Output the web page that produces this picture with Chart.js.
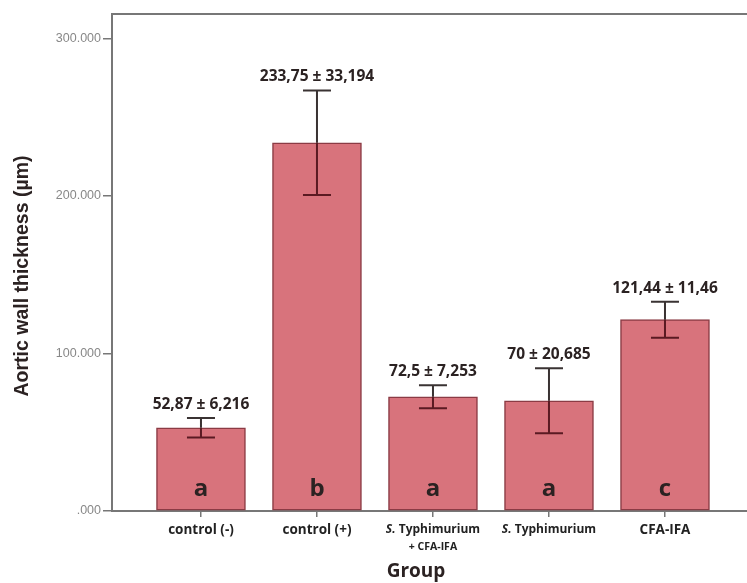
<!DOCTYPE html>
<html lang="en">
<head>
  <meta charset="UTF-8">
  <title>Aortic wall thickness</title>
  <script src="https://cdn.jsdelivr.net/npm/chart.js"></script>
  <style>
    html, body { margin: 0; padding: 0; background: #fff; }
    #wrap { width: 747px; height: 583px; }
  </style>
</head>
<body>
  <div id="wrap"><canvas id="chart"></canvas></div>

  <script>
    // data
    const groups = ['control (-)', 'control (+)', 'S. Typhimurium|+ CFA-IFA', 'S. Typhimurium', 'CFA-IFA'];
    const means = [52.87, 233.75, 72.5, 70, 121.44];
    const sds = [6.216, 33.194, 7.253, 20.685, 11.46];
    const letters = ['a', 'b', 'a', 'a', 'c'];
    const yTicks = [0, 100, 200, 300];
    const yTickLabels = ['.000', '100.000', '200.000', '300.000'];

    const fmt = v => String(v).replace('.', ',');
    const dark = '#2b2222';
    const fontFam = '"Open Sans", "Liberation Sans", sans-serif';

    // error bars + labels, drawn from the scales
    const extras = {
      id: 'extras',
      afterDatasetsDraw(chart) {
        const ctx = chart.ctx;
        const xs = chart.scales.x, ys = chart.scales.y;
        const area = chart.chartArea;
        ctx.save();

        // top frame line
        ctx.strokeStyle = '#777';
        ctx.lineWidth = 2;
        ctx.beginPath();
        ctx.moveTo(area.left, area.top);
        ctx.lineTo(area.right, area.top);
        ctx.stroke();

        means.forEach((m, i) => {
          const x = xs.getPixelForValue(i);
          const yHi = ys.getPixelForValue(m + sds[i]);
          const yLo = ys.getPixelForValue(m - sds[i]);
          const yTop = ys.getPixelForValue(m);
          const cap = 14;

          ctx.lineWidth = 2;
          ctx.strokeStyle = '#3a3333';
          ctx.beginPath();
          ctx.moveTo(x, yHi); ctx.lineTo(x, yTop);
          ctx.moveTo(x - cap, yHi); ctx.lineTo(x + cap, yHi);
          ctx.stroke();
          ctx.strokeStyle = '#5a1a22';
          ctx.beginPath();
          ctx.moveTo(x, yTop); ctx.lineTo(x, yLo);
          ctx.moveTo(x - cap, yLo); ctx.lineTo(x + cap, yLo);
          ctx.stroke();

          // value label
          ctx.fillStyle = dark;
          ctx.font = 'bold 15.5px ' + fontFam;
          ctx.textAlign = 'center';
          ctx.textBaseline = 'alphabetic';
          ctx.fillText(fmt(m) + ' \u00b1 ' + fmt(sds[i]), x, yHi - 9);

          // group letter
          ctx.font = 'bold 24px ' + fontFam;
          ctx.textBaseline = 'middle';
          ctx.fillText(letters[i], x, ys.getPixelForValue(0) - 22);

          // category label
          const parts = groups[i].split('|');
          ctx.textBaseline = 'middle';
          ctx.fillStyle = '#222';
          const main = parts[0];
          if (main.startsWith('S. ')) {
            ctx.font = 'italic bold 12px ' + fontFam;
            const w1 = ctx.measureText('S. ').width;
            ctx.font = 'bold 12px ' + fontFam;
            const w2 = ctx.measureText('Typhimurium').width;
            const x0 = x - (w1 + w2) / 2;
            ctx.textAlign = 'left';
            ctx.font = 'italic bold 12px ' + fontFam;
            ctx.fillText('S. ', x0, 530);
            ctx.font = 'bold 12px ' + fontFam;
            ctx.fillText('Typhimurium', x0 + w1, 530);
            ctx.textAlign = 'center';
          } else {
            ctx.font = 'bold 13.5px ' + fontFam;
            ctx.fillText(main, x, 530);
          }
          if (parts[1]) {
            ctx.font = 'bold 10.5px ' + fontFam;
            ctx.fillText(parts[1], x, 547);
          }
        });

        // axis titles
        ctx.fillStyle = dark;
        ctx.font = 'bold 19px ' + fontFam;
        ctx.textAlign = 'center';
        ctx.textBaseline = 'middle';
        ctx.fillText('Group', 416, 572);

        ctx.translate(23, 276);
        ctx.rotate(-Math.PI / 2);
        ctx.font = 'bold 19.5px "Liberation Sans", sans-serif';
        ctx.fillText('Aortic wall thickness (\u00b5m)', 0, 0);

        ctx.restore();
      }
    };

    new Chart(document.getElementById('chart'), {
      type: 'bar',
      data: {
        datasets: [{
          data: means.map((m, i) => ({ x: i, y: m })),
          backgroundColor: '#d8737c',
          borderColor: '#8b3b44',
          borderWidth: 1.5,
          borderSkipped: false,
          barThickness: 89
        }]
      },
      options: {
        responsive: true,
        maintainAspectRatio: false,
        animation: false,
        layout: { padding: { top: 14, right: 0, left: 0, bottom: 0 } },
        plugins: { legend: { display: false }, tooltip: { enabled: false } },
        scales: {
          x: {
            type: 'linear',
            offset: false,
            min: -0.767,
            max: 4.707,
            afterBuildTicks: s => { s.ticks = groups.map((g, i) => ({ value: i })); },
            afterFit: s => { s.height = 72; },
            ticks: { display: false },
            grid: { offset: false, drawOnChartArea: false, tickLength: 6, color: '#777', lineWidth: 1.5 },
            border: { display: true, color: '#777', width: 2 }
          },
          y: {
            min: 0,
            max: 315.5,
            afterBuildTicks: s => { s.ticks = yTicks.map(v => ({ value: v })); },
            afterFit: s => { s.width = 112; },
            ticks: {
              color: '#888',
              padding: 2,
              font: { family: '"Liberation Sans", sans-serif', size: 12.5 },
              callback: v => yTickLabels[yTicks.indexOf(v)]
            },
            grid: { drawOnChartArea: false, tickLength: 9, color: '#777', lineWidth: 1.5 },
            border: { display: true, color: '#777', width: 2 }
          }
        }
      },
      plugins: [extras]
    });
  </script>
</body>
</html>
